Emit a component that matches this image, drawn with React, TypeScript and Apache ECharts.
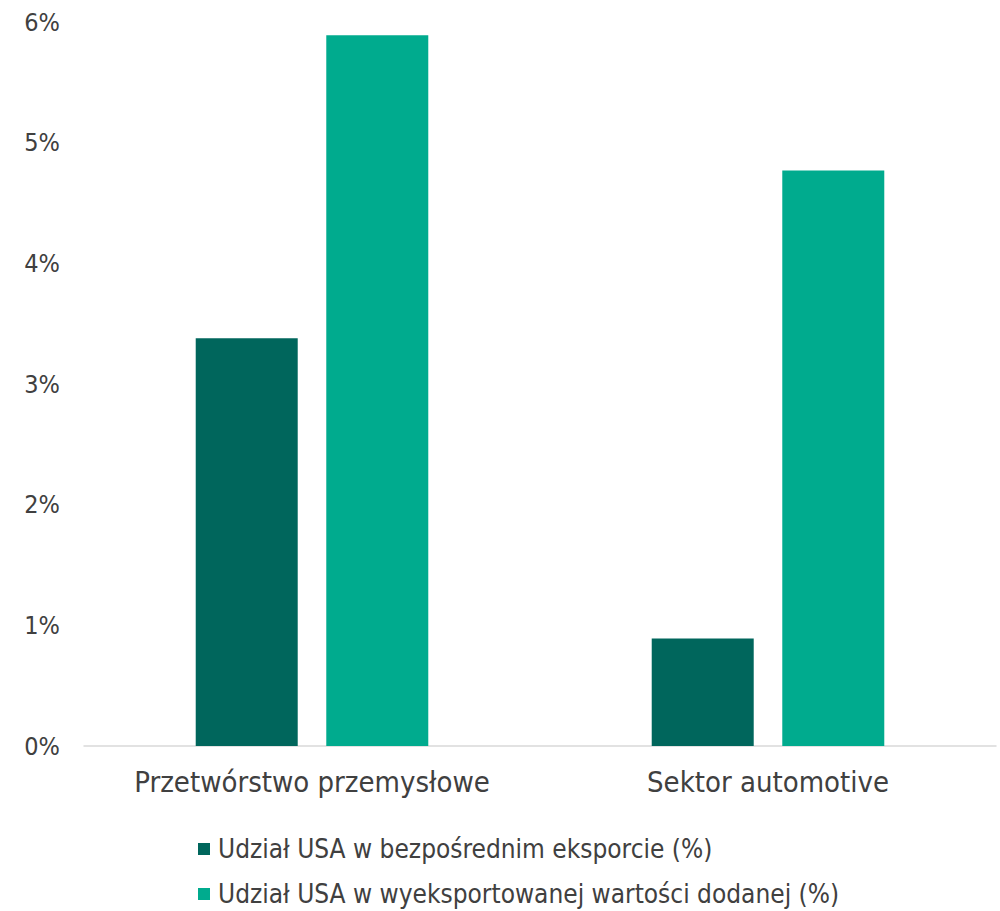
import React, { useEffect, useRef } from "react";
import * as echarts from "echarts";

const categories = ["Przetwórstwo przemysłowe", "Sektor automotive"];
const seriesNames = [
  "Udział USA w bezpośrednim eksporcie (%)",
  "Udział USA w wyeksportowanej wartości dodanej (%)",
];
const directExport = [3.38, 0.89];
const valueAdded = [5.89, 4.77];
const colors = ["#00665C", "#00AB8E"];
const FONT = "'DejaVu Sans Condensed', 'DejaVu Sans', sans-serif";

const legendBase = {
  orient: "vertical",
  left: 193,
  itemWidth: 12,
  itemHeight: 12,
  icon: "rect",
  textStyle: { fontSize: 26, color: "#404040", fontFamily: FONT, padding: [0, 0, 0, 3] },
};

export default function App() {
  const ref = useRef<HTMLDivElement>(null);
  useEffect(() => {
    document.body.style.margin = "0";
    const chart = echarts.init(ref.current!, null, { renderer: "svg" });
    chart.setOption({
      animation: false,
      textStyle: { fontFamily: FONT },
      grid: { left: 84, right: 4, top: 22, bottom: 165, containLabel: false },
      legend: [
        { ...legendBase, top: 831, data: [seriesNames[0]] },
        { ...legendBase, top: 876, data: [seriesNames[1]] },
      ],
      xAxis: {
        type: "category",
        data: categories,
        axisLine: { show: true, lineStyle: { color: "#D9D9D9", width: 1.5 } },
        axisTick: { show: false },
        axisLabel: {
          interval: 0,
          hideOverlap: false,
          fontSize: 29,
          color: "#404040",
          margin: 21,
          fontFamily: FONT,
        },
      },
      yAxis: {
        type: "value",
        min: 0,
        max: 6,
        interval: 1,
        splitLine: { show: false },
        axisLine: { show: false },
        axisTick: { show: false },
        axisLabel: {
          fontSize: 25,
          color: "#404040",
          margin: 24,
          fontFamily: FONT,
          formatter: (v: number) => `${v}%`,
        },
      },
      series: [
        {
          name: seriesNames[0],
          type: "bar",
          data: directExport,
          barWidth: 102,
          barGap: "28%",
          itemStyle: { color: colors[0] },
        },
        {
          name: seriesNames[1],
          type: "bar",
          data: valueAdded,
          barWidth: 102,
          itemStyle: { color: colors[1] },
        },
      ],
    });
    return () => chart.dispose();
  }, []);
  return <div ref={ref} style={{ width: 1000, height: 911 }} />;
}
